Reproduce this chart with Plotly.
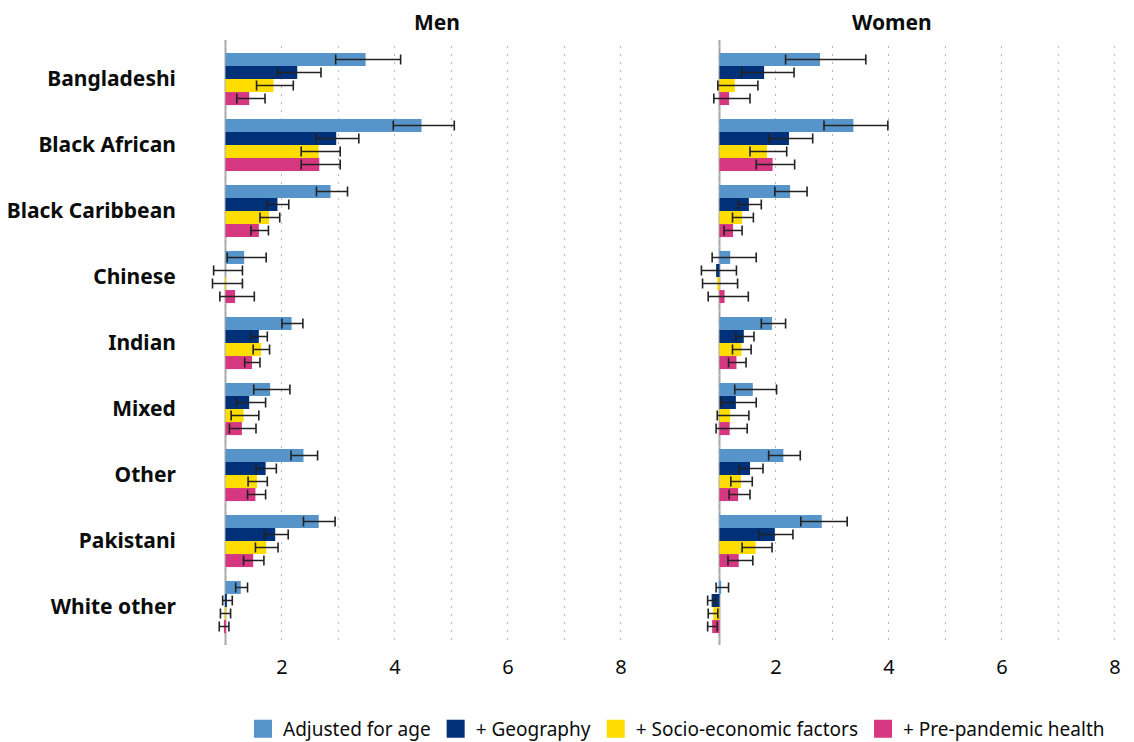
import plotly.graph_objects as go

categories = ["Bangladeshi", "Black African", "Black Caribbean", "Chinese", "Indian",
              "Mixed", "Other", "Pakistani", "White other"]
series_names = ["Adjusted for age", "+ Geography", "+ Socio-economic factors", "+ Pre-pandemic health"]
colors = ["#5694ca", "#003078", "#ffdd00", "#d53880"]

# Men: hazard ratios, lower CI, upper CI
men_age = [3.48, 4.47, 2.86, 1.33, 2.17, 1.79, 2.38, 2.65, 1.27]
men_age_lo = [2.95, 3.97, 2.61, 1.03, 2.00, 1.50, 2.16, 2.38, 1.18]
men_age_hi = [4.10, 5.05, 3.16, 1.72, 2.37, 2.14, 2.63, 2.94, 1.39]
men_geo = [2.27, 2.96, 1.92, 1.00, 1.59, 1.42, 1.71, 1.88, 1.02]
men_geo_lo = [1.92, 2.61, 1.74, 0.79, 1.45, 1.19, 1.54, 1.69, 0.95]
men_geo_hi = [2.69, 3.36, 2.12, 1.30, 1.74, 1.71, 1.90, 2.11, 1.12]
men_se = [1.85, 2.65, 1.77, 0.99, 1.63, 1.32, 1.56, 1.72, 0.99]
men_se_lo = [1.55, 2.34, 1.61, 0.77, 1.49, 1.10, 1.40, 1.53, 0.91]
men_se_hi = [2.20, 3.03, 1.96, 1.30, 1.78, 1.59, 1.74, 1.93, 1.09]
men_hl = [1.42, 2.66, 1.59, 1.17, 1.47, 1.29, 1.53, 1.49, 0.98]
men_hl_lo = [1.20, 2.34, 1.45, 0.90, 1.34, 1.07, 1.39, 1.32, 0.89]
men_hl_hi = [1.70, 3.03, 1.76, 1.51, 1.61, 1.54, 1.71, 1.68, 1.06]

# Women
women_age = [2.78, 3.37, 2.25, 1.19, 1.93, 1.59, 2.13, 2.81, 1.03]
women_age_lo = [2.17, 2.85, 1.98, 0.87, 1.74, 1.27, 1.87, 2.44, 0.94]
women_age_hi = [3.59, 3.98, 2.55, 1.65, 2.17, 2.01, 2.43, 3.26, 1.16]
women_geo = [1.79, 2.23, 1.52, 0.94, 1.43, 1.29, 1.54, 1.98, 0.86]
women_geo_lo = [1.39, 1.88, 1.33, 0.68, 1.29, 1.03, 1.35, 1.70, 0.79]
women_geo_hi = [2.32, 2.65, 1.74, 1.30, 1.61, 1.65, 1.77, 2.30, 0.93]
women_se = [1.27, 1.84, 1.40, 0.96, 1.39, 1.19, 1.38, 1.64, 0.89]
women_se_lo = [0.97, 1.54, 1.23, 0.70, 1.23, 0.96, 1.20, 1.40, 0.80]
women_se_hi = [1.68, 2.19, 1.60, 1.32, 1.56, 1.52, 1.58, 1.93, 0.97]
women_hl = [1.17, 1.94, 1.24, 1.09, 1.30, 1.18, 1.33, 1.34, 0.87]
women_hl_lo = [0.90, 1.65, 1.08, 0.80, 1.16, 0.94, 1.17, 1.15, 0.79]
women_hl_hi = [1.54, 2.33, 1.40, 1.51, 1.47, 1.49, 1.54, 1.59, 0.96]

tick_vals = [1, 2, 3, 4, 5, 6, 7, 8]
tick_text = ["", "2", "", "4", "", "6", "", "8"]
baseline = 1
panel_titles = ["Men", "Women"]

men = [(men_age, men_age_lo, men_age_hi), (men_geo, men_geo_lo, men_geo_hi),
       (men_se, men_se_lo, men_se_hi), (men_hl, men_hl_lo, men_hl_hi)]
women = [(women_age, women_age_lo, women_age_hi), (women_geo, women_geo_lo, women_geo_hi),
         (women_se, women_se_lo, women_se_hi), (women_hl, women_hl_lo, women_hl_hi)]

FONT = "Noto Sans"
TXT = "#0b0c0c"
fig = go.Figure()

for panel, (data, xa, ya) in enumerate([(men, "x", "y"), (women, "x2", "y2")]):
    for i, (vals, lo, hi) in enumerate(data):
        fig.add_trace(go.Bar(
            y=categories,
            x=[v - baseline for v in vals],
            base=baseline,
            orientation="h",
            name=series_names[i],
            marker=dict(color=colors[i], line=dict(width=0)),
            error_x=dict(type="data", symmetric=False,
                         array=[h - v for h, v in zip(hi, vals)],
                         arrayminus=[v - l for v, l in zip(vals, lo)],
                         color="#222222", thickness=1.6, width=5),
            xaxis=xa, yaxis=ya,
            showlegend=False,
            hoverinfo="skip",
        ))

# legend entries (square swatches)
for i, name in enumerate(series_names):
    fig.add_trace(go.Scatter(
        x=[None], y=[None], mode="markers", name=name,
        marker=dict(symbol="square", size=16, color=colors[i],
                    line=dict(color=colors[i], width=2)),
        xaxis="x", yaxis="y", showlegend=True, hoverinfo="skip",
    ))

# page has an 8px body margin: work in page pixels, convert to figure pixels
OFF = 8
W, H = 1134 - OFF, 742 - OFF
T, B = 46 - OFF, 102
PH = H - T - B


def px(X):
    return (X - OFF) / W


def py(Y):
    # page pixel Y -> paper y
    return ((T + PH) - (Y - OFF)) / PH


xr = [0.6, 8.3]
axis_common = dict(
    range=xr, tickmode="array", tickvals=tick_vals, ticktext=tick_text,
    showgrid=True, gridcolor="#b8b8b8", griddash="2px,6px", gridwidth=1,
    zeroline=False, showline=False, ticks="", ticklabelstandoff=13,
    tickfont=dict(family=FONT, size=20, color=TXT),
)
fig.update_layout(
    width=W, height=H,
    margin=dict(l=0, r=0, t=T, b=B, autoexpand=False),
    paper_bgcolor="white", plot_bgcolor="white",
    barmode="group", bargap=0.21, bargroupgap=0,
    font=dict(family=FONT, color=TXT),
    xaxis=dict(domain=[px(202.9), px(637.9)], anchor="y", **axis_common),
    xaxis2=dict(domain=[px(696.9), px(1131.9)], anchor="y2", **axis_common),
    yaxis=dict(domain=[0, 1], anchor="x", autorange="reversed", showgrid=False,
               ticks="", ticklabelstandoff=26,
               tickfont=dict(family=FONT, size=21, color=TXT, weight="bold")),
    yaxis2=dict(domain=[0, 1], anchor="x2", autorange="reversed", showgrid=False,
                showticklabels=False, ticks="", matches="y"),
    legend=dict(orientation="h", x=px(243), xanchor="left",
                y=py(729), yanchor="middle",
                font=dict(family=FONT, size=19, color=TXT),
                itemwidth=30, traceorder="normal", bgcolor="rgba(0,0,0,0)"),
    annotations=[
        dict(text="<b>%s</b>" % panel_titles[0], x=px(437), y=py(22),
             xref="paper", yref="paper", yanchor="middle", showarrow=False,
             borderpad=0, font=dict(family=FONT, size=21, color=TXT)),
        dict(text="<b>%s</b>" % panel_titles[1], x=px(933), y=py(22),
             xref="paper", yref="paper", yanchor="middle", showarrow=False,
             borderpad=0, font=dict(family=FONT, size=21, color=TXT)),
    ],
)

# Solid baseline at 1 in each panel
for xa in ["x", "x2"]:
    fig.add_shape(type="line", xref=xa, yref="paper", x0=baseline, x1=baseline,
                  y0=py(645), y1=py(40), line=dict(color="#a8a8a8", width=2), layer="below")

fig.write_html("out.html")
